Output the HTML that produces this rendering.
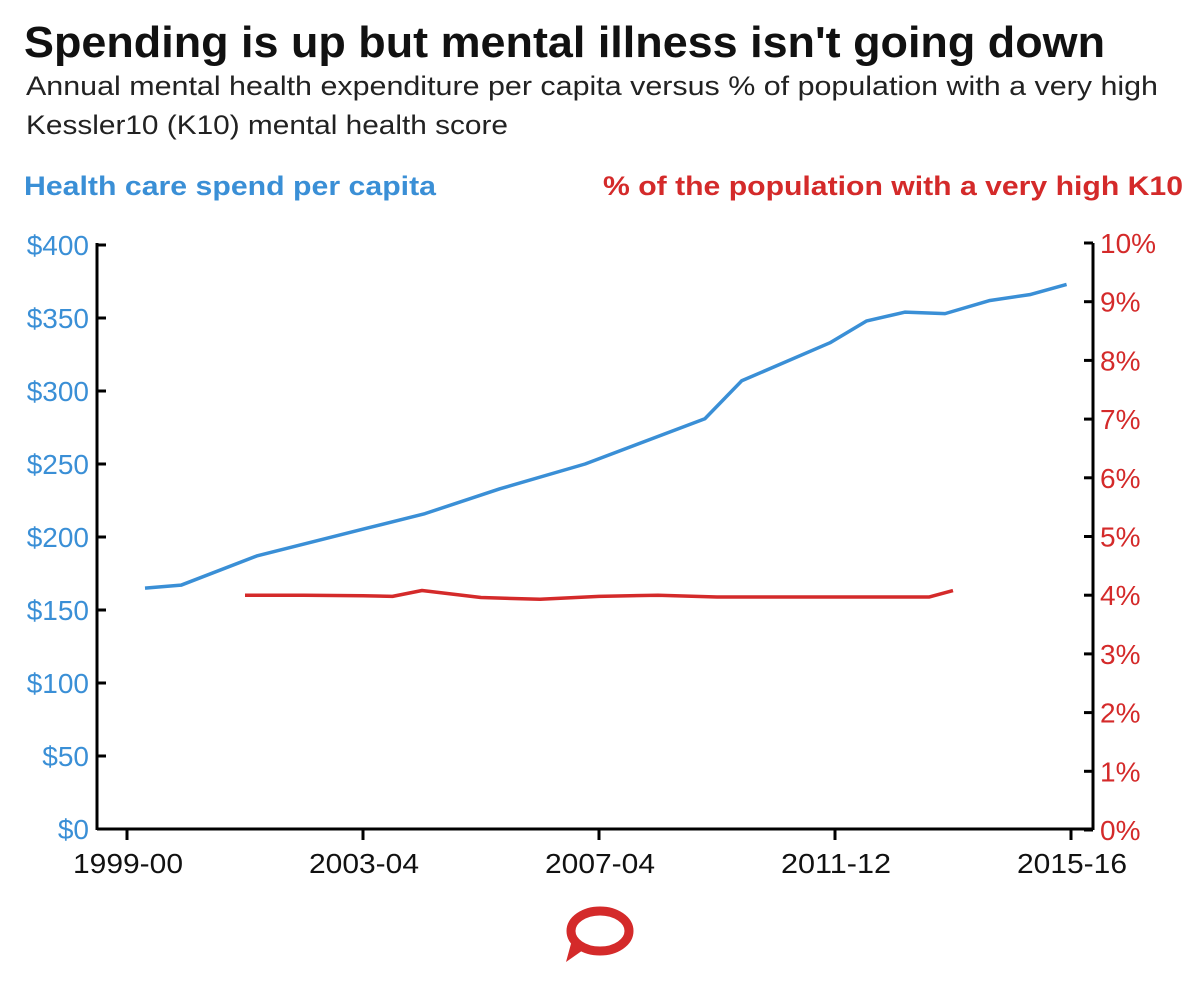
<!DOCTYPE html>
<html><head><meta charset="utf-8"><style>
body{margin:0;background:#fff;font-family:"Liberation Sans",Arial,sans-serif;}
#wrap{position:relative;width:1200px;height:994px;overflow:hidden;background:#fff}
</style></head><body>
<div id="wrap">
<svg id="chart" width="1200" height="994" font-family="Liberation Sans, Arial, sans-serif">
<text x="24" y="57" font-size="44" font-weight="bold" fill="#111" textLength="1081" lengthAdjust="spacingAndGlyphs">Spending is up but mental illness isn't going down</text>
<text x="26" y="95" font-size="27" fill="#222" textLength="1132" lengthAdjust="spacingAndGlyphs">Annual mental health expenditure per capita versus % of population with a very high</text>
<text x="26" y="134" font-size="27" fill="#222" textLength="482" lengthAdjust="spacingAndGlyphs">Kessler10 (K10) mental health score</text>
<text x="24" y="195" font-size="27" font-weight="bold" fill="#3a8fd6" textLength="412" lengthAdjust="spacingAndGlyphs">Health care spend per capita</text>
<text x="603" y="195" font-size="27" font-weight="bold" fill="#d42a2a" textLength="580" lengthAdjust="spacingAndGlyphs">% of the population with a very high K10</text>
<g id="axes"></g>
<g id="series"></g>
<g>
<ellipse cx="600" cy="931" rx="29" ry="20" fill="none" stroke="#d42a2a" stroke-width="9"/>
<path d="M572 940 L566 962 L586 948 Z" fill="#d42a2a"/>
</g>
</svg>
</div>
<script>
const categories=["1999-00","2000-01","2001-02","2002-03","2003-04","2004-05","2005-06","2006-07","2007-04","2008-09","2009-10","2010-11","2011-12","2012-13","2013-14","2014-15","2015-16"];
const spendValues=[165,167,187,206,216,233,250,281,307,333,348,354,353,362,366,373];
const spendIdx=[0,0.625,1.94,3.85,4.86,6.16,7.64,9.72,10.36,11.89,12.53,13.19,13.89,14.67,15.36,16];
const k10Values=[4.0,4.0,3.99,3.98,4.08,3.96,3.93,3.98,4.0,3.97,3.97,3.97,3.97,3.97,3.97,3.97,4.08];
const k10Idx=[2,3,4,4.5,5,6,7,8,9,10,11,12,13,13.2,13.4,13.6,14];
const leftTicks=[0,50,100,150,200,250,300,350,400];
const rightTicks=[0,1,2,3,4,5,6,7,8,9,10];
const xTickIdx=[0,4,8,12,16];
const NS="http://www.w3.org/2000/svg";
const xS=i=>127+i*59;
const xB=i=>145+i*57.6;
const yL=v=>829-v*(829-245)/400;
const yR=v=>830-v*(830-243)/10;
function mk(t,a,p){const e=document.createElementNS(NS,t);for(const k in a)e.setAttribute(k,a[k]);p.appendChild(e);return e;}
const ax=document.getElementById('axes'),se=document.getElementById('series');
let l=mk('line',{x1:97,y1:243,x2:97,y2:830,stroke:'#000','stroke-width':3},ax);


l=mk('line',{x1:1093,y1:243,x2:1093,y2:830,stroke:'#000','stroke-width':3},ax);


l=mk('line',{x1:97,y1:829,x2:1093,y2:829,stroke:'#000','stroke-width':3},ax);


leftTicks.forEach(v=>{const y=yL(v);mk('line',{x1:97,y1:y,x2:106,y2:y,stroke:'#000','stroke-width':3},ax);
const t=mk('text',{x:89,y:y+10,'font-size':28,fill:'#3a8fd6','text-anchor':'end'},ax);t.textContent='$'+v;

});
rightTicks.forEach(v=>{const y=yR(v);mk('line',{x1:1084,y1:y,x2:1093,y2:y,stroke:'#000','stroke-width':3},ax);
const t=mk('text',{x:1100,y:y+10,'font-size':28,fill:'#d42a2a'},ax);t.textContent=v+'%';

});
xTickIdx.forEach(i=>{const x=xS(i);mk('line',{x1:x,y1:829,x2:x,y2:840,stroke:'#000','stroke-width':3},ax);
const t=mk('text',{x:x+1,y:873,'font-size':28,fill:'#111','text-anchor':'middle',textLength:110,lengthAdjust:'spacingAndGlyphs'},ax);t.textContent=categories[i];

});
let p=mk('polyline',{points:spendValues.map((v,k)=>xB(spendIdx[k])+','+yL(v)).join(' '),fill:'none',stroke:'#3a8fd6','stroke-width':3.5,'stroke-linejoin':'round'},se);


p=mk('polyline',{points:k10Values.map((v,k)=>xS(k10Idx[k])+','+yR(v)).join(' '),fill:'none',stroke:'#d42a2a','stroke-width':3.5,'stroke-linejoin':'round'},se);


</script>
</body></html>
